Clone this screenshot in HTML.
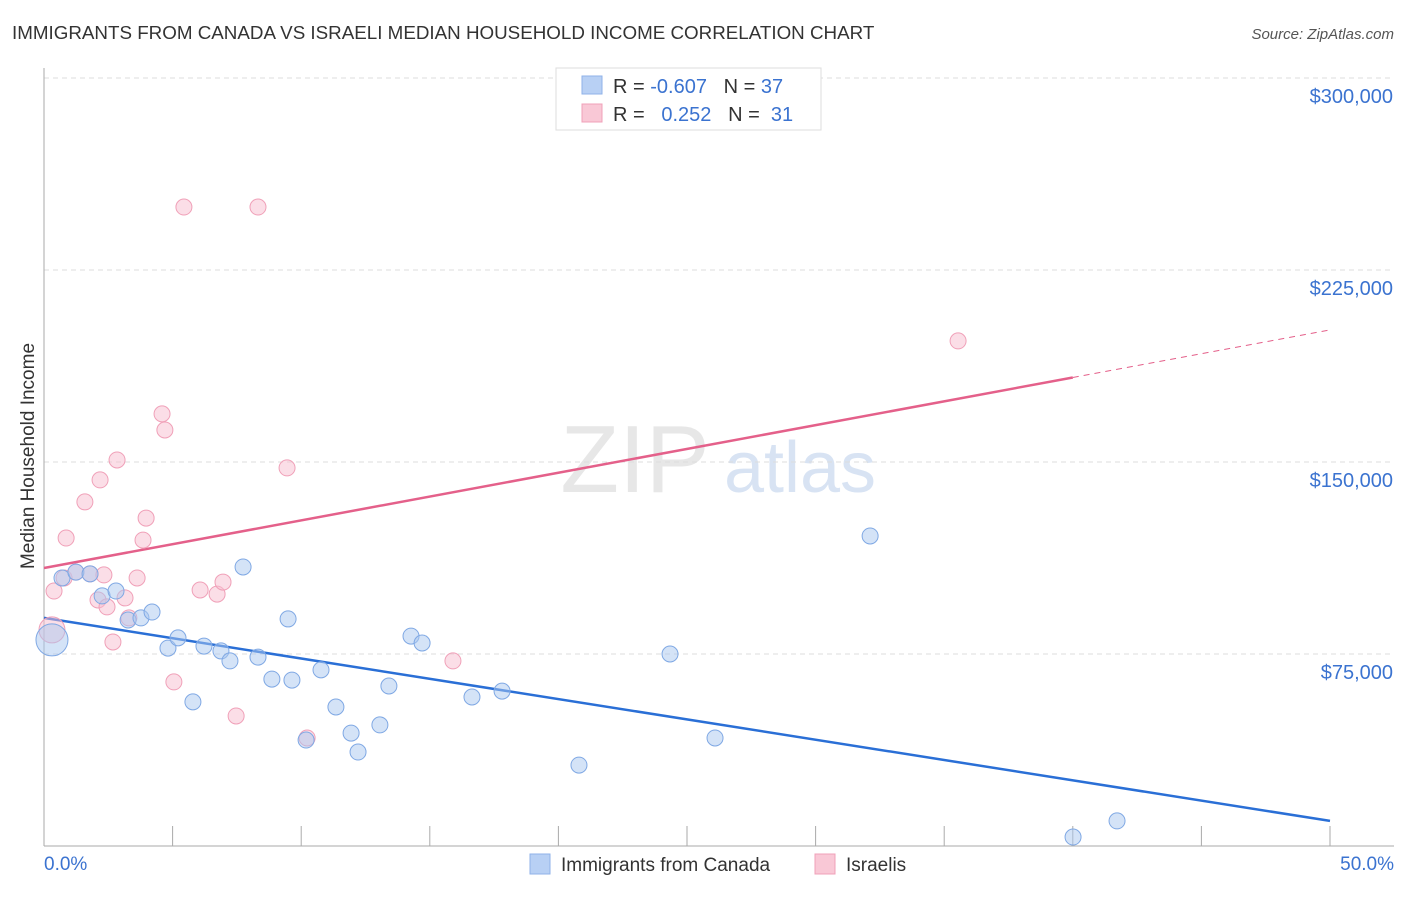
<!DOCTYPE html>
<html><head><meta charset="utf-8"><style>
body{margin:0;background:#fff;font-family:"Liberation Sans",sans-serif;}
svg text{font-family:"Liberation Sans",sans-serif;}
</style></head><body>
<svg id="c" width="1406" height="892" viewBox="0 0 1406 892" xmlns="http://www.w3.org/2000/svg">
<text x="12" y="39" font-size="18.8" fill="#333">IMMIGRANTS FROM CANADA VS ISRAELI MEDIAN HOUSEHOLD INCOME CORRELATION CHART</text>
<text x="1394" y="39" font-size="15" fill="#555" font-style="italic" text-anchor="end">Source: ZipAtlas.com</text>
<g>
<text x="635" y="492" font-size="96" fill="#ddd" font-family="Liberation Serif" text-anchor="middle" opacity="0.7">ZIP</text>
<text x="800" y="492" font-size="72" fill="#c8d8ef" text-anchor="middle" opacity="0.7">atlas</text>
</g>
<g id="grid"></g>
<g id="axes"></g>
<g id="lines"></g>
<g id="pts"></g>
<g>
<rect x="556" y="68" width="265" height="62" fill="#fff" stroke="#ddd"/>
<rect x="582" y="76" width="20" height="18" fill="#b8d0f4" stroke="#8fb2e8"/>
<rect x="582" y="104" width="20" height="18" fill="#f9c8d6" stroke="#f0a0b8"/>
<text x="613" y="93" font-size="20" fill="#333" xml:space="preserve">R = <tspan fill="#3b73d0">-0.607</tspan>   N = <tspan fill="#3b73d0">37</tspan></text>
<text x="613" y="121" font-size="20" fill="#333" xml:space="preserve">R =   <tspan fill="#3b73d0">0.252</tspan>   N =  <tspan fill="#3b73d0">31</tspan></text>
</g>
<g>
<rect x="530" y="854" width="20" height="20" fill="#b8d0f4" stroke="#8fb2e8"/>
<text x="561" y="871" font-size="19" fill="#333">Immigrants from Canada</text>
<rect x="815" y="854" width="20" height="20" fill="#f9c8d6" stroke="#f0a0b8"/>
<text x="846" y="871" font-size="19" fill="#333">Israelis</text>
</g>
<text transform="translate(34,456) rotate(-90)" font-size="19" fill="#333" text-anchor="middle">Median Household Income</text>
</svg>
<script>
const yTicks=[75000,150000,225000,300000];
const yTickLabels=["$75,000","$150,000","$225,000","$300,000"];
const xLabels=["0.0%","50.0%"];
const canadaX=[0.31,0.70,1.24,1.79,2.26,2.80,3.27,3.77,4.20,4.82,5.21,5.79,6.22,6.88,7.23,7.74,8.32,8.86,9.49,9.64,10.19,10.77,11.35,11.94,12.21,13.06,13.41,14.27,14.70,16.64,17.81,20.80,24.34,26.09,32.12,40.01,41.72];
const canadaY=[80.5,104.7,107.0,106.3,97.7,99.6,88.3,89.1,91.4,77.3,81.3,56.3,78.1,76.2,72.3,109.0,73.8,65.2,88.7,64.8,41.4,68.8,54.3,44.1,36.7,47.3,62.5,82.0,79.3,58.2,60.5,31.6,75.0,42.2,121.1,3.5,9.8];
const israelX=[0.31,0.39,0.78,0.86,1.24,1.59,1.79,2.10,2.18,2.33,2.45,2.68,2.84,3.15,3.30,3.62,3.85,3.97,4.59,4.70,5.05,5.44,6.07,6.73,6.96,7.47,8.32,9.45,10.23,15.90,35.54];
const israelY=[84.4,99.6,104.7,120.3,107.0,134.4,106.3,96.1,143.0,105.9,93.4,79.7,150.8,96.9,89.1,104.7,119.5,128.1,168.8,162.5,64.1,249.6,100.0,98.4,103.1,50.8,249.6,147.7,42.2,72.3,197.3];
const canadaTrend=[89.1,9.8];
const israelTrend=[108.6,201.6];
const ns="http://www.w3.org/2000/svg";
const X=p=>44+p/50*1286;
const Y=v=>846-v/75000*192;
function mk(t,a,par){const e=document.createElementNS(ns,t);for(const k in a)e.setAttribute(k,a[k]);document.getElementById(par).appendChild(e);return e;}
yTicks.forEach((v,i)=>{
 const g=mk('line',{x1:44,x2:1394,y1:Y(v),y2:Y(v),stroke:'#ddd','stroke-dasharray':'5,4'},'grid');
 
 
 const t=mk('text',{x:1393,y:Y(v)+25,'font-size':20,fill:'#3b73d0','text-anchor':'end'},'axes');
 t.textContent=yTickLabels[i];
 
 
});
const ya=mk('line',{x1:44,x2:44,y1:68,y2:846,stroke:'#aaa'},'axes');


const xa=mk('line',{x1:44,x2:1394,y1:846,y2:846,stroke:'#aaa'},'axes');


for(let i=1;i<=10;i++){const tk=mk('line',{x1:X(i*5),x2:X(i*5),y1:826,y2:846,stroke:'#aaa'},'axes');
 
 }
[[0,'start',44],[50,'end',1394]].forEach((d,i)=>{const t=mk('text',{x:d[2],y:870,'font-size':19,fill:'#3b73d0','text-anchor':d[1]},'axes');t.textContent=xLabels[i];
 
 });
const bl=mk('line',{x1:X(0),y1:Y(canadaTrend[0]*1000),x2:X(50),y2:Y(canadaTrend[1]*1000),stroke:'#2a6fd6','stroke-width':2.5},'lines');


const iy=p=>israelTrend[0]+(israelTrend[1]-israelTrend[0])*p/50;
const pl=mk('line',{x1:X(0),y1:Y(iy(0)*1000),x2:X(40),y2:Y(iy(40)*1000),stroke:'#e4608a','stroke-width':2.5},'lines');


const pd=mk('line',{x1:X(40),y1:Y(iy(40)*1000),x2:X(50),y2:Y(iy(50)*1000),stroke:'#e4608a','stroke-width':1,'stroke-dasharray':'6,5'},'lines');


israelX.forEach((x,i)=>{const c=mk('circle',{cx:X(x),cy:Y(israelY[i]*1000),r:i==0?13:8,fill:'rgba(248,190,207,0.5)',stroke:'#f0a0b8','stroke-width':1},'pts');
 
 });
canadaX.forEach((x,i)=>{const c=mk('circle',{cx:X(x),cy:Y(canadaY[i]*1000),r:i==0?16:8,fill:'rgba(170,200,240,0.5)',stroke:'#7fa8e4','stroke-width':1},'pts');
 
 });
</script>
</body></html>
